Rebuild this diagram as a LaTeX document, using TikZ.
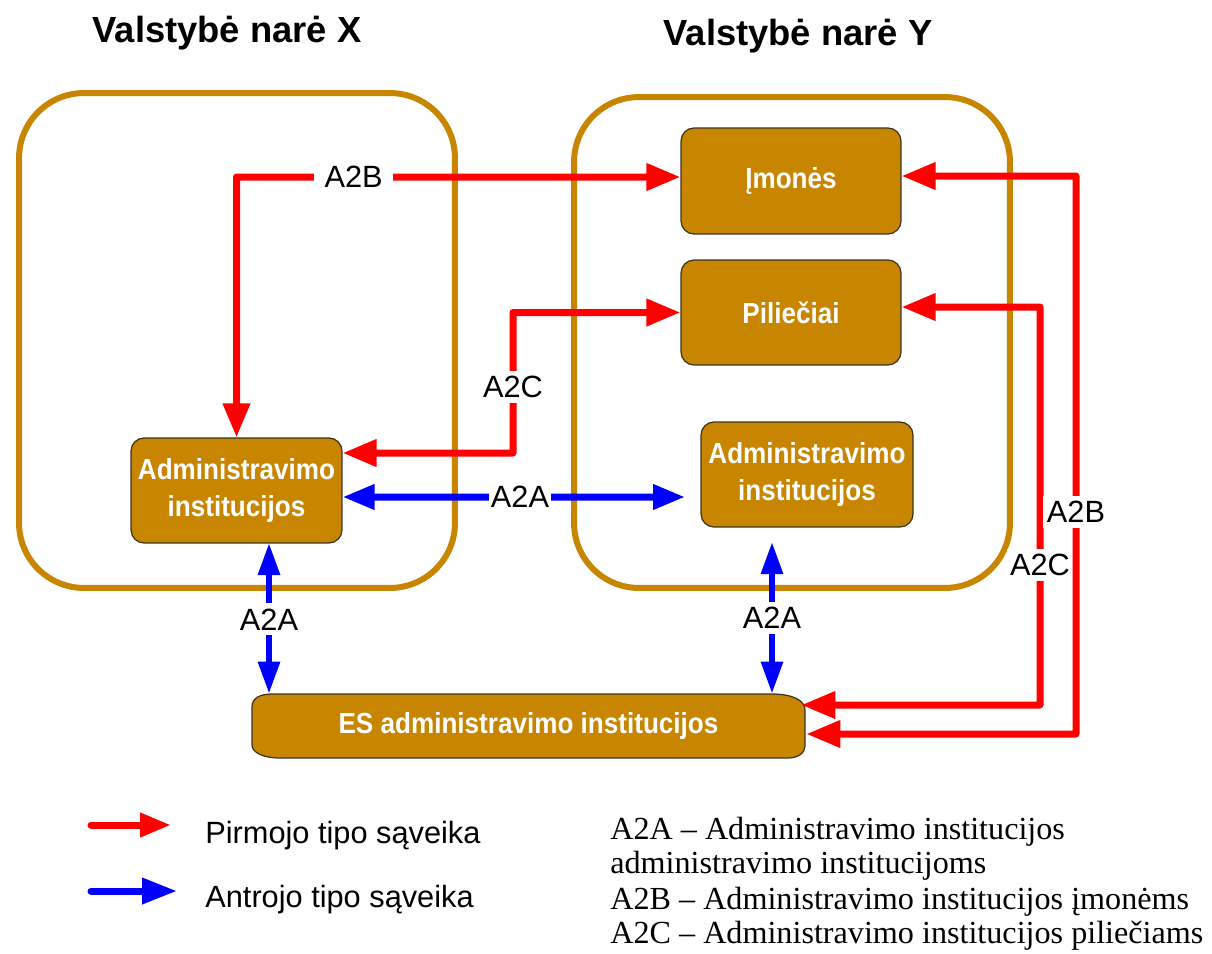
\documentclass[tikz,border=0pt]{standalone}
\usepackage{fontspec}
\setmainfont{Liberation Serif}
\setsansfont{Liberation Sans}
\newfontfamily\narrowsans[FakeStretch=0.9]{Liberation Sans}
\usetikzlibrary{arrows.meta,calc}
\definecolor{ochre}{RGB}{200,134,0}
\definecolor{boxedge}{RGB}{60,50,30}
\definecolor{linkred}{RGB}{255,0,0}
\definecolor{linkblue}{RGB}{0,0,255}
\begin{document}
\begin{tikzpicture}[x=0.02cm,y=-0.02cm,
  stateframe/.style={draw=ochre, line width=0.12cm, rounded corners=1.3cm, inner sep=0pt},
  unitfont/.style={font=\narrowsans\bfseries\fontsize{16.5}{21}\selectfont},
  unit/.style={draw=boxedge, line width=0.7pt, fill=ochre, rounded corners=0.26cm, text=white,
    unitfont, align=center, inner sep=0pt},
  heading/.style={font=\sffamily\bfseries\fontsize{20.7}{24}\selectfont, anchor=base, inner sep=0pt},
  tag/.style={fill=white, text=black, font=\sffamily\fontsize{17.5}{20}\selectfont, inner xsep=2pt, inner ysep=3pt},
  redlink/.style={draw=linkred, line width=0.14cm, line join=round, >={Triangle[length=0.68cm,width=0.52cm]}, <->},
  bluelink/.style={draw=linkblue, line width=0.14cm, >={Triangle[length=0.64cm,width=0.48cm]}, <->},
  bluevert/.style={draw=linkblue, line width=0.12cm, >={Triangle[length=0.64cm,width=0.42cm]}, <->},
  keytext/.style={font=\sffamily\fontsize{17.5}{20}\selectfont, anchor=base west, inner sep=0pt},
  note/.style={font=\fontsize{18.3}{20}\selectfont, anchor=base west, inner sep=0pt},
]
\useasboundingbox (0,0) rectangle (1212,953);

% headings
\node[heading] (titleX) at (227,43) {Valstybė narė X};
\node[heading] (titleY) at (798,46) {Valstybė narė Y};

% member state frames
\node[stateframe, minimum width=8.72cm, minimum height=9.9cm] (frameX) at (237,340.5) {};
\node[stateframe, minimum width=8.72cm, minimum height=9.82cm] (frameY) at (792,342.5) {};

% actors
\node[unit, minimum width=4.4cm, minimum height=2.12cm] (imones) at (791,181) {Įmonės};
\node[unit, minimum width=4.4cm, minimum height=2.1cm] (pil) at (791,312.5) {Piliečiai};
\node[unit, minimum width=4.24cm, minimum height=2.1cm] (admY) at (807,474.5) {Administravimo\\institucijos};
\node[unit, minimum width=4.22cm, minimum height=2.1cm] (admX) at (236.5,490.5) {Administravimo\\institucijos};

% EU administrations (tape-like outline)
\draw[draw=boxedge, line width=0.7pt, fill=ochre]
  (252,707) .. controls (252,698) and (260,694) .. (272,694)
  -- (772,694) .. controls (792,694) and (805,700) .. (805,710)
  -- (805,746) .. controls (805,753) and (798,758) .. (788,758)
  -- (280,758) .. controls (262,758) and (252,752) .. (252,745) -- cycle;
\node[text=white, unitfont, inner sep=0pt,
  minimum width=11.06cm, minimum height=1.28cm] (es) at (528.5,726) {ES administravimo institucijos};

% A2B: administration X <-> enterprises Y
\draw[redlink] (admX.north) -- (236.5,177) -- node[tag, pos=0.264, inner xsep=6pt] {A2B} ([yshift=0.08cm]imones.west);
% A2C: administration X <-> citizens Y
\draw[redlink] (pil.west) -- (513,312.5) -- node[tag, pos=0.53] {A2C} (513,453) -- ([yshift=0.75cm]admX.east);
% A2A between the two national administrations
\coordinate (gapY) at (685,497);
\draw[bluelink] ([yshift=-0.13cm]admX.east) -- node[tag, pos=0.518, inner xsep=1pt] {A2A} (gapY);
% A2A with the EU administrations
\coordinate (vX) at (269,543);
\draw[bluevert] (vX) -- node[tag, pos=0.507] {A2A} (vX |- es.north);
\coordinate (vY) at (772,542);
\draw[bluevert] (vY) -- node[tag, pos=0.5] {A2A} (vY |- es.north);
% EU administrations to citizens and enterprises of Y
\draw[redlink] ([shift={(-4,-21)}]es.east) -- (1040,705) -- node[tag, pos=0.352] {A2C} (1040,307) -- ([yshift=0.11cm]pil.east);
\draw[redlink] ([shift={(1,8)}]es.east) -- (1076,734) -- node[tag, pos=0.398] {A2B} (1076,176) -- ([yshift=0.1cm]imones.east);

% legend
\coordinate (kr0) at (91,825);
\coordinate (kr1) at (171,825);
\draw[draw=linkred, line width=0.14cm, line cap=round, -{Triangle[length=0.62cm,width=0.46cm]}] (kr0) -- (kr1);
\coordinate (kb0) at (91,891);
\coordinate (kb1) at (177,891);
\draw[draw=linkblue, line width=0.14cm, line cap=round, -{Triangle[length=0.7cm,width=0.5cm]}] (kb0) -- (kb1);
\node[keytext] (k1) at (205,843) {Pirmojo tipo sąveika};
\node[keytext] (k2) at (205,907) {Antrojo tipo sąveika};

\node[note] (n1) at (610,839) {A2A – Administravimo institucijos};
\node[note] (n2) at (610,873) {administravimo institucijoms};
\node[note] (n3) at (610,909) {A2B – Administravimo institucijos įmonėms};
\node[note] (n4) at (610,943) {A2C – Administravimo institucijos piliečiams};
\end{tikzpicture}
\end{document}
